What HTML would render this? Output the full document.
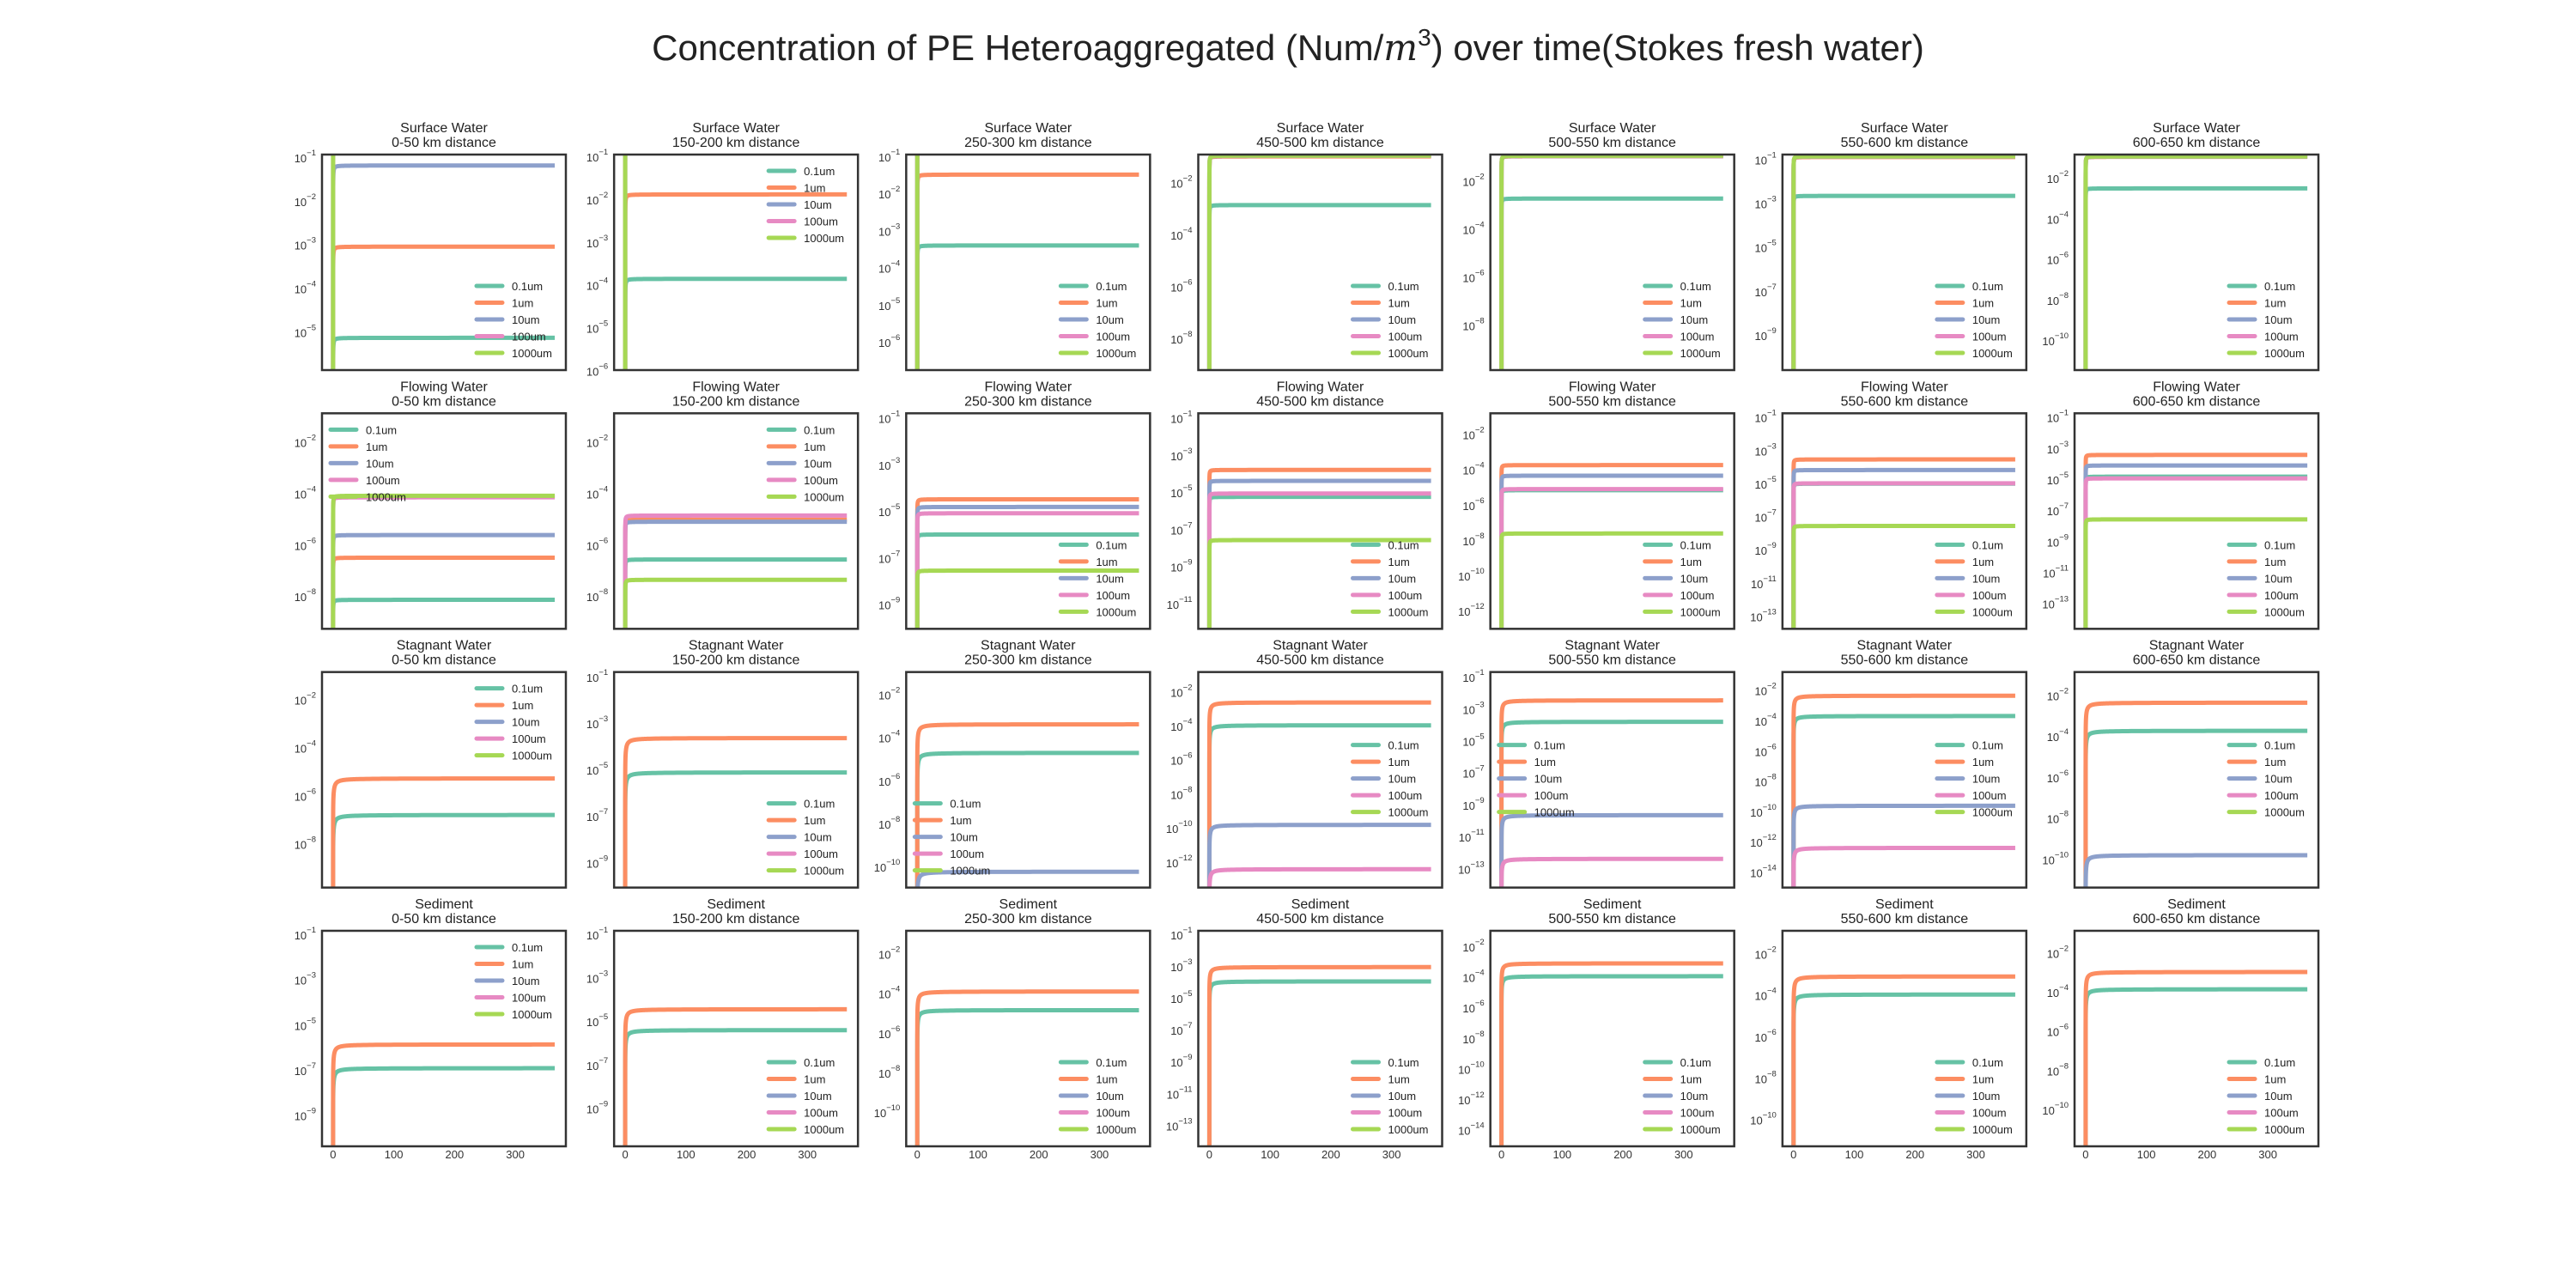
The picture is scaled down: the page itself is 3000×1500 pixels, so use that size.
<!DOCTYPE html>
<html><head><meta charset="utf-8">
<style>
html,body{margin:0;padding:0;background:#fff;}
svg{display:block;font-family:"Liberation Sans",Arial,sans-serif;}
</style></head>
<body>
<svg id="fig" width="3000" height="1500" viewBox="0 0 3000 1500" xmlns="http://www.w3.org/2000/svg">
<rect width="3000" height="1500" fill="#fff"/>
<text x="1500" y="70" font-size="42" text-anchor="middle" fill="#222">Concentration of PE Heteroaggregated (Num/<tspan font-style="italic" font-family="DejaVu Serif, serif">m</tspan><tspan font-size="28" dy="-17">3</tspan><tspan dy="17">) over time(Stokes fresh water)</tspan></text>
</svg>
<script>
// ---- data ----
const rowNames = ["Surface Water","Flowing Water","Stagnant Water","Sediment"];
const distances = ["0-50","150-200","250-300","450-500","500-550","550-600","600-650"];
const sizes = ["0.1um","1um","10um","100um","1000um"];
const colors = ["#66c2a5","#fc8d62","#8da0cb","#e78ac3","#a6d854"];
const xTicks = [0,100,200,300];
const riseK = [0.3,0.3,3,3];
// log10 plateau concentration per panel, order = sizes (null = not plotted)
const surfaceLog = [
 [-5.18,-3.09,-1.23,0,0],[-3.9,-1.93,0,0,0],[-3.45,-1.54,0,0,0],
 [-2.94,-1.07,-1.05,-1.04,-1.04],[-2.81,-1.05,-1.04,-1.03,-1.03],
 [-2.75,-0.98,-0.96,-0.95,-0.95],[-2.6,-1.04,-1.03,-1.02,-1.02]];
const flowingLog = [
 [-8.21,-6.57,-5.69,-4.22,-4.16],[-6.64,-5.09,-5.17,-4.93,-7.43],[-6.08,-4.57,-4.9,-5.17,-7.63],
 [-5.35,-3.9,-4.49,-5.17,-7.68],[-5.27,-3.85,-4.45,-5.21,-7.73],[-5.12,-3.66,-4.3,-5.1,-7.67],
 [-4.95,-3.55,-4.23,-5.06,-7.7]];
const stagnantLog = [
 [-6.88,-5.36,null,null,null],[-5.2,-3.72,null,null,null],[-4.8,-3.47,-10.33,null,null],
 [-4.08,-2.74,-9.92,-12.52,null],[-3.93,-2.59,-9.77,-12.5,null],[-3.82,-2.48,-9.74,-12.52,null],
 [-3.83,-2.46,-9.89,null,null]];
const sedimentLog = [
 [-7.0,-5.95,null,null,null],[-5.49,-4.53,null,null,null],[-4.94,-4.0,null,null,null],
 [-4.07,-3.17,null,null,null],[-4.07,-3.23,null,null,null],[-4.06,-3.19,null,null,null],
 [-3.96,-3.08,null,null,null]];
const yLimits = [
 [[-5.92,-0.98],[-6.03,-1],[-6.81,-1],[-9.28,-1.0],[-9.95,-0.98],[-10.68,-0.87],[-11.57,-0.93]],
 [[-9.34,-0.95],[-9.34,-0.95],[-10.13,-0.88],[-12.46,-0.85],[-13.14,-0.91],[-13.87,-0.88],[-14.75,-0.87]],
 [[-9.9,-0.94],[-10.16,-0.88],[-11.07,-1.04],[-13.6,-0.96],[-14.3,-0.82],[-15.14,-0.92],[-11.47,-0.97]],
 [[-10.46,-0.92],[-10.84,-0.92],[-11.81,-0.94],[-14.44,-0.89],[-15.2,-1.1],[-11.38,-0.99],[-11.97,-0.98]]];
// first tick exponent and step per panel
const tickFirst = [
 [-1,-1,-1,-2,-2,-1,-2],[-2,-2,-1,-1,-2,-1,-1],[-2,-1,-2,-2,-1,-2,-2],[-1,-1,-2,-1,-2,-2,-2]];
const tickStep = [
 [1,1,1,2,2,2,2],[2,2,2,2,2,2,2],[2,2,2,2,2,2,2],[2,2,2,2,2,2,2]];
const legendLoc = [
 ["lr","ur","lr","lr","lr","lr","lr"],
 ["ul","ur","lr","lr","lr","lr","lr"],
 ["ur","lr","ll","cr","cl","cr","cr"],
 ["ur","lr","lr","lr","lr","lr","lr"]];
const allData = [surfaceLog, flowingLog, stagnantLog, sedimentLog];

// ---- layout ----
const NS = "http://www.w3.org/2000/svg";
const svg = document.getElementById("fig");
const PW = 284, PH = 251;
const X0 = -18.25, X1 = 383.25;
function el(tag, attrs, parent){
  const e = document.createElementNS(NS, tag);
  for (const k in attrs) e.setAttribute(k, attrs[k]);
  (parent||svg).appendChild(e);
  return e;
}
const tSamples = [];
for (let t = 0.001; t < 1; t *= 1.3) tSamples.push(t);
for (let t = 1; t <= 365; t += (t < 40 ? 0.5 : 5)) tSamples.push(t);
tSamples.push(365);

for (let r = 0; r < 4; r++) {
  for (let c = 0; c < 7; c++) {
    const left = 375 + c * 340.17, top = 180 + r * 301.33;
    const [yMin, yMax] = yLimits[r][c];
    const xs = t => left + (t - X0) / (X1 - X0) * PW;
    const ys = lv => top + (yMax - lv) / (yMax - yMin) * PH;
    const g = el("g", {});
    
    
    const cid = "clip" + r + "_" + c;
    const cp = el("clipPath", {id: cid}, g);
    el("rect", {x: left, y: top, width: PW, height: PH}, cp);
    // title
    const t1 = el("text", {x: left + PW/2, y: top - 26, "font-size": 16, "text-anchor": "middle", fill: "#222"}, g);
    t1.textContent = rowNames[r];
    
    
    const t2 = el("text", {x: left + PW/2, y: top - 9, "font-size": 16, "text-anchor": "middle", fill: "#222"}, g);
    t2.textContent = distances[c] + " km distance";
    
    
    // y ticks
    for (let e = tickFirst[r][c]; e >= yMin; e -= tickStep[r][c]) {
      if (e > yMax + 0.05) continue;
      const y = ys(e);
      const tx = el("text", {x: left - 7, y: y + 8, "font-size": 13, "text-anchor": "end", fill: "#333"}, g);
      
      
      const a = el("tspan", {}, tx); a.textContent = "10";
      const b = el("tspan", {dy: -8, "font-size": 9.5}, tx); b.textContent = "\u2212" + Math.abs(e);
    }
    // x ticks (bottom row)
    if (r === 3) {
      xTicks.forEach(v => {
        const tx = el("text", {x: xs(v), y: top + PH + 14, "font-size": 13, "text-anchor": "middle", fill: "#333"}, g);
        tx.textContent = v;
        
        
      });
    }
    // series
    const data = allData[r][c];
    const k = riseK[r];
    data.forEach((p, i) => {
      if (p === null) return;
      let d = "M" + xs(0).toFixed(2) + "," + (top + PH + 30).toFixed(2);
      tSamples.forEach((t) => {
        const lv = p + Math.log10(t / (t + k));
        const yy = Math.min(ys(lv), top + PH + 30);
        d += "L" + xs(t).toFixed(2) + "," + yy.toFixed(2);
      });
      const path = el("path", {d: d, fill: "none", stroke: colors[i], "stroke-width": 5, "clip-path": "url(#" + cid + ")", "stroke-linejoin": "round"}, g);
      
      
    });
    // frame
    const fr = el("rect", {x: left, y: top, width: PW, height: PH, fill: "none", stroke: "#333", "stroke-width": 2.5}, g);
    
    
    // legend
    const loc = legendLoc[r][c];
    let lx, ly;
    if (loc[1] === "r") lx = left + PW - 104; else lx = left + 10;
    if (loc[0] === "u") ly = top + 19;
    else if (loc[0] === "l") ly = top + PH - 98;
    else ly = top + 85;
    const lg = el("g", {}, g);
    
    
    sizes.forEach((s, i) => {
      const yy = ly + i * 19.5;
      const ln = el("line", {x1: lx, y1: yy, x2: lx + 30, y2: yy, stroke: colors[i], "stroke-width": 5, "stroke-linecap": "round"}, lg);
      
      
      const lt = el("text", {x: lx + 41, y: yy + 5, "font-size": 13, fill: "#222"}, lg);
      lt.textContent = s;
      
      
    });
  }
}
</script>
</body></html>
